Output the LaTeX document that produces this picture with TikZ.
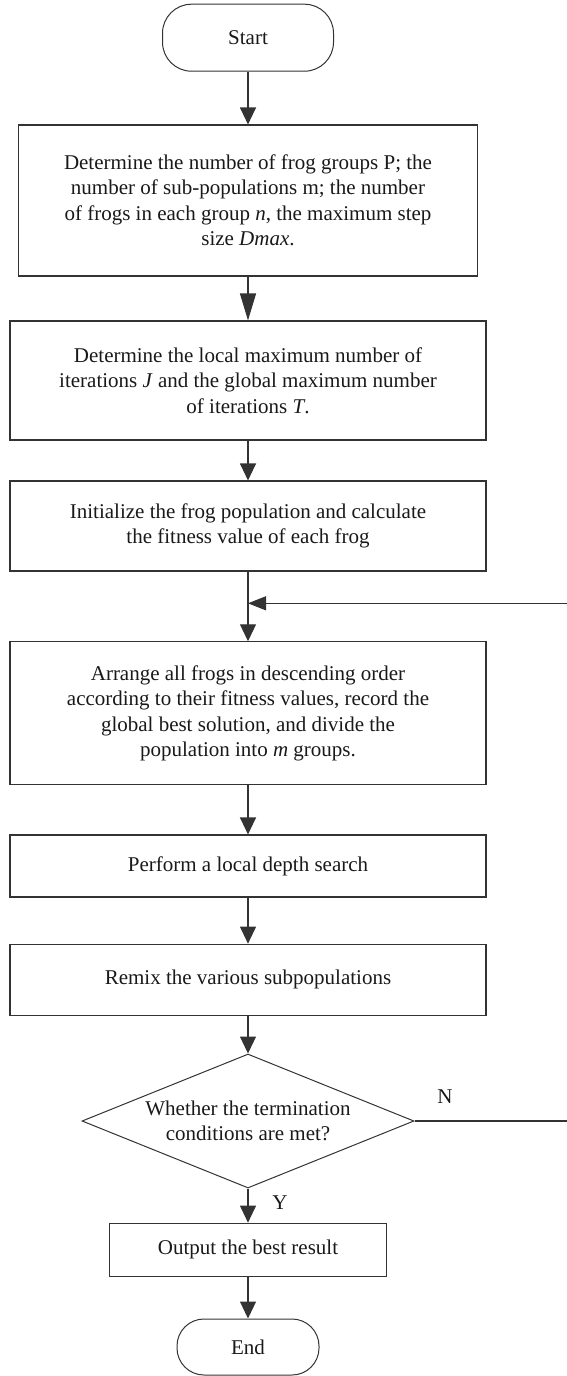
\documentclass[tikz,border=0pt]{standalone}
\usepackage{fontspec}
\setmainfont{Liberation Serif}
\usetikzlibrary{arrows.meta,shapes.geometric}

\begin{document}
\begin{tikzpicture}[x=1pt,y=-1pt,
  every node/.style={font=\fontsize{21}{25.5}\selectfont,text=black!90},
  box/.style={draw=black!80,line width=1.1pt,rectangle,inner sep=0pt,align=center},
  term/.style={draw=black!80,line width=1pt,rectangle,rounded corners=29pt,inner sep=0pt},
  dec/.style={draw=black!80,line width=1pt,diamond,aspect=2.48,inner sep=0pt,align=center,
    minimum width=332pt,minimum height=134pt},
  flow/.style={draw=black!80,line width=1.1pt,-{Triangle[width=16pt,length=17pt]}}]
\useasboundingbox (0,0) rectangle (567,1376);
% terminals and process boxes, centred on the main axis
\node[term,minimum width=171pt,minimum height=67pt] (start) at (248,37.7) {Start};
\node[box,minimum width=459pt,minimum height=151pt] (setp) at (248,200.5)
  {Determine the number of frog groups P; the\\ number of sub-populations m; the number\\
   of frogs in each group \textit{n}, the maximum step\\ size \textit{Dmax}.};
\node[box,minimum width=476pt,minimum height=119pt] (iter) at (248,380.5)
  {Determine the local maximum number of\\ iterations \textit{J} and the global maximum number\\
   of iterations \textit{T}.};
\node[box,minimum width=476pt,minimum height=90pt] (init) at (248,526)
  {Initialize the frog population and calculate\\ the fitness value of each frog};
\coordinate (join) at (248,603.3);
\node[box,minimum width=476pt,minimum height=143pt] (sort) at (248,713.3)
  {Arrange all frogs in descending order\\ according to their fitness values, record the\\
   global best solution, and divide the\\ population into \textit{m} groups.};
\node[box,minimum width=476pt,minimum height=62pt] (local) at (248,866)
  {Perform a local depth search};
\node[box,minimum width=476pt,minimum height=71pt] (remix) at (248,979.7)
  {Remix the various subpopulations};
\node[dec] (stop) at (248,1121)
  {Whether the termination\\ conditions are met?};
\node[box,minimum width=277pt,minimum height=53pt] (out) at (248,1249.7)
  {Output the best result};
\node[term,rounded corners=27pt,minimum width=142pt,minimum height=56pt] (end) at (248,1347) {End};
\coordinate (back) at (590,1121);
\node (lblN) at (445,1097) {N};
\node (lblY) at (280,1203) {Y};
% connectors
\draw[flow] (start) -- (setp);
\draw[flow,-{Triangle[width=16pt,length=27pt]}] (setp) -- (iter);
\draw[flow] (iter) -- (init);
\draw[flow] (init) -- (sort);
\draw[flow] (sort) -- (local);
\draw[flow] (local) -- (remix);
\draw[flow] (remix) -- (stop);
\draw[flow] (stop) -- (out);
\draw[flow] (out) -- (end);
\draw[flow,-{Triangle[width=14pt,length=18pt]}] (stop.east) -- (back) |- (join);
\end{tikzpicture}
\end{document}
